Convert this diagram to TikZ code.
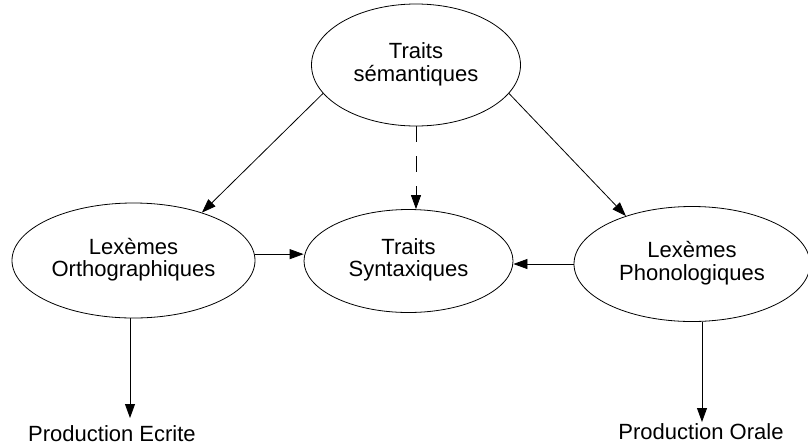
\documentclass[tikz,border=0pt]{standalone}
\usepackage{fontspec}
\setmainfont{Liberation Sans}
\usetikzlibrary{shapes.geometric,arrows.meta}
\begin{document}
\begin{tikzpicture}[x=1pt,y=-1pt,
  every node/.style={font=\fontsize{22}{21}\selectfont},
  oval/.style={ellipse,draw,line width=0.8pt,inner sep=0pt,align=center},
  conn/.style={line width=0.8pt,-{Triangle[length=14pt,width=10pt]}},
  dashconn/.style={conn,dash pattern=on 16pt off 14pt},
  plain/.style={inner sep=0pt}]
\useasboundingbox (0,0) rectangle (808,445);
\node[oval,minimum width=209pt,minimum height=122pt] (sem) at (416,65) {\raisebox{-3pt}{\begin{tabular}{@{}c@{}}Traits\\sémantiques\end{tabular}}};
\node[oval,minimum width=209pt,minimum height=103pt] (syn) at (408.5,261) {\raisebox{-2pt}{\begin{tabular}{@{}c@{}}Traits\\Syntaxiques\end{tabular}}};
\node[oval,minimum width=243pt,minimum height=115pt] (ortho) at (133.5,260.5) {\raisebox{-2pt}{\begin{tabular}{@{}c@{}}Lexèmes\\Orthographiques\end{tabular}}};
\node[oval,minimum width=236pt,minimum height=115pt] (phono) at (692,264) {\raisebox{-2pt}{\begin{tabular}{@{}c@{}}Lexèmes\\Phonologiques\end{tabular}}};
\node[plain,anchor=base] (pe) at (112,441) {Production Ecrite};
\node[plain,anchor=base] (po) at (701,439) {Production Orale};
\coordinate (pet) at (130,418);
\coordinate (pot) at (702,422);
\draw[conn] (sem.197) -- (ortho.35);
\draw[conn] (sem.343) -- (phono.144);
\draw[dashconn] (sem.south) -- (sem.south |- syn.north);
\draw[conn] (ortho.3) -- (ortho.3 -| syn.west);
\draw[conn] (phono.west) -- (phono.west -| syn.east);
\draw[conn] (ortho.south -| pet) -- (pet);
\draw[conn] (phono.south -| pot) -- (pot);
\end{tikzpicture}
\end{document}
